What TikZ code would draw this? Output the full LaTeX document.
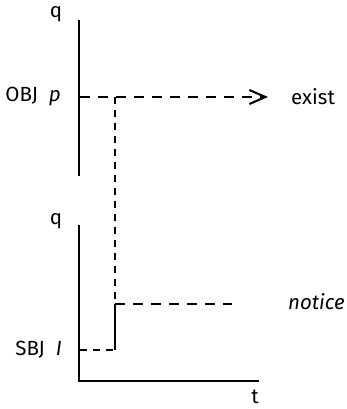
\documentclass[tikz,border=0pt]{standalone}
\usepackage{fontspec}
\setmainfont{Fira Sans}
\usetikzlibrary{arrows.meta}
\begin{document}
\begin{tikzpicture}[x=1pt,y=1pt,
  axis/.style={line width=2.1pt},
  thickdash/.style={line width=2.1pt,dash pattern=on 10pt off 8pt},
  thindash/.style={line width=1.2pt,dash pattern=on 7pt off 6pt},
  lbl/.style={font=\fontsize{20.5}{24}\selectfont,inner sep=0pt}]
\useasboundingbox (0,0) rectangle (346,409);
% upper axis
\coordinate (ut) at (79,389);
\coordinate (ub) at (79,233);
\draw[axis] (ut) -- (ub);
\node[lbl] (q1) at (56,395) {q};
\node[lbl,anchor=east] (obj) at (61,312) {OBJ~~\textit{p}};
\coordinate (ps) at (80,312);
\coordinate (pe) at (268,312);
\coordinate (corner) at (115,312);
\draw[thickdash,-{Straight Barb[length=16pt,width=14pt,line width=2.1pt]}] (ps) -- (pe);
\node[lbl,anchor=west] (exist) at (291,312) {exist};
% lower axis
\coordinate (lt) at (79,184);
\coordinate (lo) at (79,28);
\coordinate (lr) at (259,28);
\draw[axis] (lt) -- (lo) -- (lr);
\node[lbl] (q2) at (56,188) {q};
\node[lbl] (t) at (255,12) {t};
\node[lbl,anchor=east] (sbj) at (62,59) {SBJ~~\textit{I}};
\coordinate (is) at (80,59);
\coordinate (ie) at (115,59);
\coordinate (step) at (115,105);
\coordinate (ne) at (232,105);
\draw[thindash] (is) -- (ie);
\draw[axis] (ie) -- (step);
\draw[thickdash] (step) -- (ne);
\draw[thindash] (corner) -- (step);
\node[lbl,anchor=west] (notice) at (288,107) {\textit{notice}};
\end{tikzpicture}
\end{document}
